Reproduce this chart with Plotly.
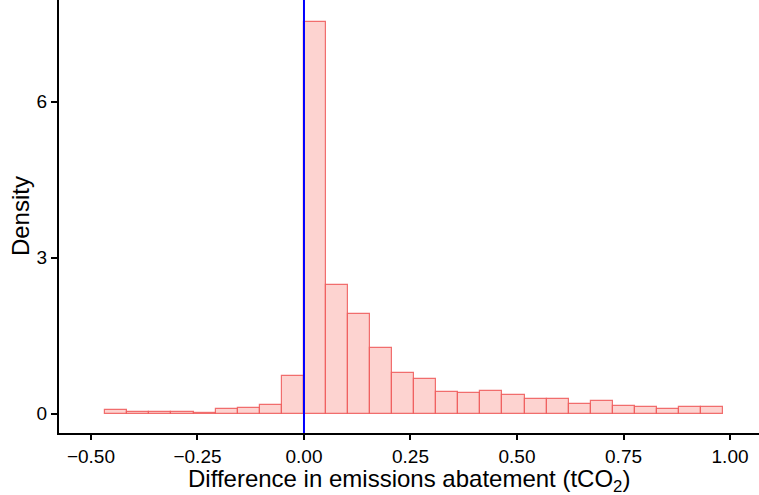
import plotly.graph_objects as go

# Histogram of difference in emissions abatement (density)
bin_start = -0.4665
bin_width = 0.0518
density = [0.07, 0.02, 0.02, 0.03, 0.005, 0.09, 0.115, 0.16, 0.72,
           7.54, 2.48, 1.91, 1.27, 0.78, 0.66, 0.41, 0.40, 0.43, 0.36,
           0.28, 0.28, 0.19, 0.24, 0.15, 0.135, 0.09, 0.13, 0.13]
x_ticks = [-0.5, -0.25, 0.0, 0.25, 0.5, 0.75, 1.0]
x_ticklabels = ["\u22120.50", "\u22120.25", "0.00", "0.25", "0.50", "0.75", "1.00"]
y_ticks = [0, 3, 6]
vline_x = 0.0
x_title = "Difference in emissions abatement (tCO<sub>2</sub>)"
y_title = "Density"

centers = [bin_start + bin_width * (i + 0.5) for i in range(len(density))]

fig = go.Figure()
fig.add_trace(go.Bar(
    x=centers, y=density, width=[bin_width] * len(density),
    marker=dict(color="rgba(248,118,109,0.32)",
                line=dict(color="rgba(240,95,95,0.9)", width=1.2)),
    hoverinfo="skip",
))
fig.add_shape(type="line", x0=vline_x, x1=vline_x, y0=0, y1=1,
              xref="x", yref="paper", line=dict(color="#0000FF", width=2))

font = "Liberation Sans, Arial, Helvetica, sans-serif"
fig.add_annotation(text=x_title, xref="paper", yref="paper", x=0.5, y=-0.109,
                   xanchor="center", yanchor="middle", showarrow=False,
                   font=dict(size=24, color="black", family=font))
fig.add_annotation(text=y_title, xref="paper", yref="paper", x=-0.0557, y=0.501,
                   xanchor="center", yanchor="middle", showarrow=False,
                   textangle=-90, font=dict(size=24, color="black", family=font))

fig.update_layout(
    width=759, height=495,
    margin=dict(l=59, r=0, t=0, b=62, autoexpand=False),
    plot_bgcolor="white", paper_bgcolor="white",
    showlegend=False, bargap=0,
    font=dict(family=font, color="black"),
    xaxis=dict(range=[-0.575, 1.068], tickvals=x_ticks, ticktext=x_ticklabels,
               showgrid=False, zeroline=False, showline=True, linecolor="black",
               linewidth=2, ticks="outside", ticklen=5, tickwidth=1.5,
               tickcolor="black", tickfont=dict(size=19, color="black"),
               automargin=False),
    yaxis=dict(range=[-0.375, 7.96], tickvals=y_ticks,
               showgrid=False, zeroline=False, showline=True, linecolor="black",
               linewidth=2, ticks="outside", ticklen=6, tickwidth=1.5,
               tickcolor="black", tickfont=dict(size=19, color="black"),
               automargin=False),
)

fig.write_html("out.html")
